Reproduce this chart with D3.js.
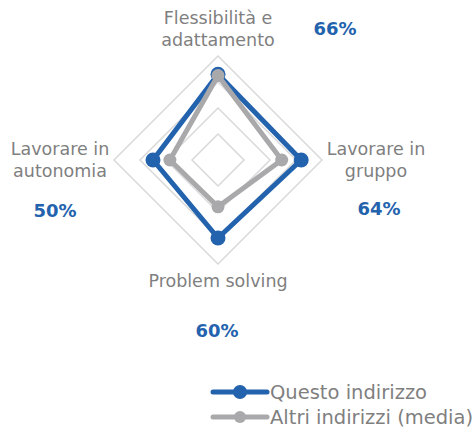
<!DOCTYPE html>
<html>
<head>
<meta charset="utf-8">
<script src="https://cdn.jsdelivr.net/npm/d3@7"></script>
<style>
  body { margin: 0; background: #fff; }
  svg { display: block; }
</style>
</head>
<body>
<svg id="chart"></svg>
<script>
// Data
const axes = ["Flessibilità e adattamento", "Lavorare in gruppo", "Problem solving", "Lavorare in autonomia"];
const questo = [66, 64, 60, 50];
const altri = [65, 49, 36, 37];
const gridLevels = [20, 40, 60, 80];
const seriesNames = ["Questo indirizzo", "Altri indirizzi (media)"];

const BLUE = "#2362ad";
const GREY = "#a9a9ab";
const GRID = "#d9d9d9";
const TEXT = "#7f7f7f";
const FONT = "'DejaVu Sans', sans-serif";

const width = 473, height = 428;
const cx = 218, cy = 160;

const svg = d3.select("#chart").attr("width", width).attr("height", height);

const r = d3.scaleLinear().domain([0, 80]).range([0, 104]);
const angle = i => -Math.PI / 2 + i * 2 * Math.PI / axes.length;
const pt = (v, i) => [cx + r(v) * Math.cos(angle(i)), cy + r(v) * Math.sin(angle(i))];

const line = d3.line().curve(d3.curveLinearClosed);

// grid diamonds
svg.selectAll(".grid")
  .data(gridLevels)
  .enter().append("path")
  .attr("d", lv => line(axes.map((a, i) => pt(lv, i))))
  .attr("fill", "none")
  .attr("stroke", GRID)
  .attr("stroke-width", 1.5);

// series
function drawSeries(vals, color, rad) {
  svg.append("path")
    .attr("d", line(vals.map(pt)))
    .attr("fill", "none")
    .attr("stroke", color)
    .attr("stroke-width", 5)
    .attr("stroke-linejoin", "round");
  svg.selectAll(null)
    .data(vals)
    .enter().append("circle")
    .attr("cx", (v, i) => pt(v, i)[0])
    .attr("cy", (v, i) => pt(v, i)[1])
    .attr("r", rad)
    .attr("fill", color);
}
drawSeries(questo, BLUE, 7.5);
drawSeries(altri, GREY, 6.5);

// axis labels
const labelLines = [["Flessibilità e", "adattamento"], ["Lavorare in", "gruppo"], ["Problem solving"], ["Lavorare in", "autonomia"]];
const labelPos = [[218, 24], [376, 155], [218, 287], [60, 155]];
labelLines.forEach((lines, i) => {
  const t = svg.append("text")
    .attr("x", labelPos[i][0])
    .attr("y", labelPos[i][1])
    .attr("text-anchor", "middle")
    .attr("font-family", FONT)
    .attr("font-size", 17.5)
    .attr("fill", TEXT);
  lines.forEach((s, k) => {
    t.append("tspan").attr("x", labelPos[i][0]).attr("dy", k ? 22 : 0).text(s);
  });
});

// value labels
const valuePos = [[335, 35], [379, 215], [217, 337], [55, 217]];
questo.forEach((v, i) => {
  svg.append("text")
    .attr("x", valuePos[i][0])
    .attr("y", valuePos[i][1])
    .attr("text-anchor", "middle")
    .attr("font-family", FONT)
    .attr("font-weight", "bold")
    .attr("font-size", 18)
    .attr("fill", BLUE)
    .text(v + "%");
});

// legend
const legend = svg.append("g");
[[BLUE, 7], [GREY, 6]].forEach((d, k) => {
  const y = 392 + k * 25;
  legend.append("line")
    .attr("x1", 213).attr("x2", 267).attr("y1", y).attr("y2", y)
    .attr("stroke", d[0]).attr("stroke-width", 5).attr("stroke-linecap", "round");
  legend.append("circle").attr("cx", 240).attr("cy", y).attr("r", d[1]).attr("fill", d[0]);
  legend.append("text")
    .attr("x", 270).attr("y", y + 7)
    .attr("font-family", FONT)
    .attr("font-size", 19.5)
    .attr("fill", TEXT)
    .text(seriesNames[k]);
});
</script>
</body>
</html>
